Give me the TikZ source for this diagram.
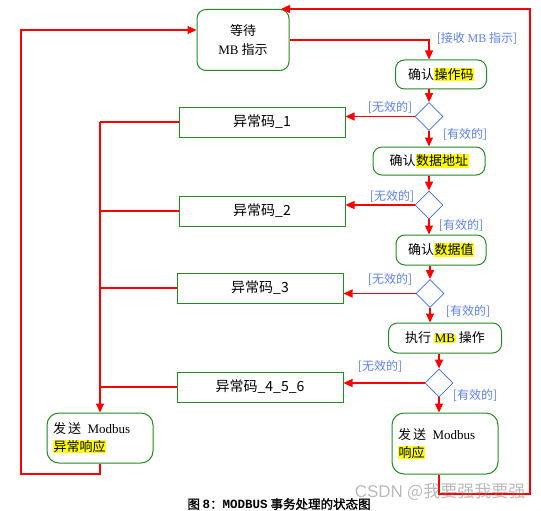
\documentclass[tikz,border=0pt]{standalone}
\usepackage{fontspec}
\setmainfont{Liberation Serif}
\newfontfamily\cjk{Noto Sans CJK SC}
\newfontfamily\cjkcap[FakeBold=1.5]{Noto Sans CJK SC}
\newfontfamily\mono{Liberation Mono}
\newfontfamily\wmsans{Liberation Sans}
\usetikzlibrary{shapes.geometric,arrows.meta}
\definecolor{boxgreen}{HTML}{228B22}
\definecolor{lblue}{HTML}{5C80F0}
\definecolor{dblue}{HTML}{3A6AF0}
\definecolor{hly}{HTML}{FFFF00}
\newcommand{\hlt}[1]{{\setlength{\fboxsep}{0.5pt}\colorbox{hly}{#1}}}
\begin{document}
\begin{tikzpicture}[x=1pt,y=-1pt,
  state/.style={draw=boxgreen, line width=1pt, rounded corners=9pt, fill=white, inner sep=0pt, font=\fontsize{13}{15}\selectfont},
  errbox/.style={draw=boxgreen, line width=1pt, fill=white, minimum width=166pt, minimum height=30pt, inner sep=0pt, font=\cjk\fontsize{14}{16}\selectfont},
  choice/.style={diamond, draw=dblue, line width=0.8pt, fill=white, minimum width=28pt, minimum height=28pt, inner sep=0pt},
  flow/.style={draw=red, line width=1.2pt},
  arr/.style={flow, -{Triangle[length=9pt,width=8pt]}},
  lbl/.style={text=lblue, font=\cjk\fontsize{12}{14}\selectfont, inner sep=0pt}]
\useasboundingbox (0,0) rectangle (541,511);
% states
\node[state, minimum width=92pt, minimum height=61pt, align=center] (wait) at (243,40) {{\cjk 等待}\\[4pt]MB {\cjk 指示}};
\node[state, minimum width=91pt, minimum height=29pt] (op) at (441,74.5) {{\cjk 确认\hlt{操作码}}};
\node[state, minimum width=112pt, minimum height=28pt] (addr) at (429,161) {{\cjk 确认\hlt{数据地址}}};
\node[state, minimum width=90pt, minimum height=30pt] (val) at (441,250) {{\cjk 确认\hlt{数据值}}};
\node[state, minimum width=113pt, minimum height=30pt] (exec) at (445,338) {{\cjk 执行} \hlt{MB} {\cjk 操作}};
\node[state, rounded corners=12pt, minimum width=106pt, minimum height=61pt, text width=94pt, align=left] (resp) at (445,443.5) {{\cjk 发\,送}\enspace Modbus\\[3pt]\hlt{\cjk 响应}\\[6pt]};
\node[state, rounded corners=12pt, minimum width=106pt, minimum height=50pt, text width=94pt, align=left] (errresp) at (100,438) {{\cjk 发\,送}\enspace Modbus\\[3pt]\hlt{\cjk 异常响应}};
% error boxes
\node[errbox] (e1) at (262,122) {异常码\_1};
\node[errbox] (e2) at (262,211) {异常码\_2};
\node[errbox] (e3) at (260,288) {异常码\_3};
\node[errbox] (e4) at (260,387) {异常码\_4\_5\_6};
% choices
\node[choice] (d1) at (429,116.5) {};
\node[choice] (d2) at (429,205) {};
\node[choice] (d3) at (430,293.5) {};
\node[choice] (d4) at (439,383) {};
% main flow
\draw[arr] (wait.east) -| (d1 |- op.north);
\draw[arr] (op.south -| d1) -- (d1.north);
\draw[arr] (d1.west) -- (d1.west -| e1.east);
\draw[arr] (d1.south) -- (d1.south |- addr.north);
\draw[arr] (addr.south -| d2) -- (d2.north);
\draw[arr] (d2.west) -- (d2.west -| e2.east);
\draw[arr] (d2.south) -- (d2.south |- val.north);
\draw[arr] (val.south -| d3) -- (d3.north);
\draw[arr] (d3.west) -- (d3.west -| e3.east);
\draw[arr] (d3.south) -- (d3.south |- exec.north);
\draw[arr] (exec.south -| d4) -- (d4.north);
\draw[arr] (d4.west) -- (d4.west -| e4.east);
\draw[arr] (d4.south) -- (d4.south |- resp.north);
% left bus
\draw[flow] (e1.west) -- (e1.west -| errresp.north);
\draw[flow] (e2.west) -- (e2.west -| errresp.north);
\draw[flow] (e3.west) -- (e3.west -| errresp.north);
\draw[flow] (e4.west) -- (e4.west -| errresp.north);
\draw[arr] (e1.west -| errresp.north) -- (errresp.north);
% loops
\coordinate (lb) at (21,474);
\coordinate (lt) at (21,30);
\draw[arr] (errresp.south) -- (errresp.south |- lb) -- (lb) -- (lt) -- (lt -| wait.west);
\coordinate (rb) at (530,494);
\coordinate (rt) at (530,9);
\coordinate (wt) at (281,9);
\draw[arr] (d4 |- resp.south) -- (d4 |- rb) -- (rb) -- (rt) -- (wt);
% labels
\node[lbl] (l0) at (477,38) {[接收 {\rmfamily MB} 指示]};
\node[lbl] (n1) at (390,107) {[无效的]};
\node[lbl] (y1) at (465,134) {[有效的]};
\node[lbl] (n2) at (392,196) {[无效的]};
\node[lbl] (y2) at (461,225) {[有效的]};
\node[lbl] (n3) at (390,279) {[无效的]};
\node[lbl] (y3) at (468,311) {[有效的]};
\node[lbl] (n4) at (380,366) {[无效的]};
\node[lbl] (y4) at (475,395) {[有效的]};
% caption
\node[inner sep=0pt] (cap) at (279,504) {\cjkcap\fontsize{12.5}{14}\selectfont 图 {\mono\bfseries 8}：{\mono\bfseries MODBUS} 事务处理的状态图};
\node[inner sep=0pt, text=gray, opacity=0.55, font=\fontsize{17}{19}\selectfont] (wm) at (440,492) {{\wmsans CSDN} {\cjk @我要强我要强}};
\end{tikzpicture}
\end{document}
